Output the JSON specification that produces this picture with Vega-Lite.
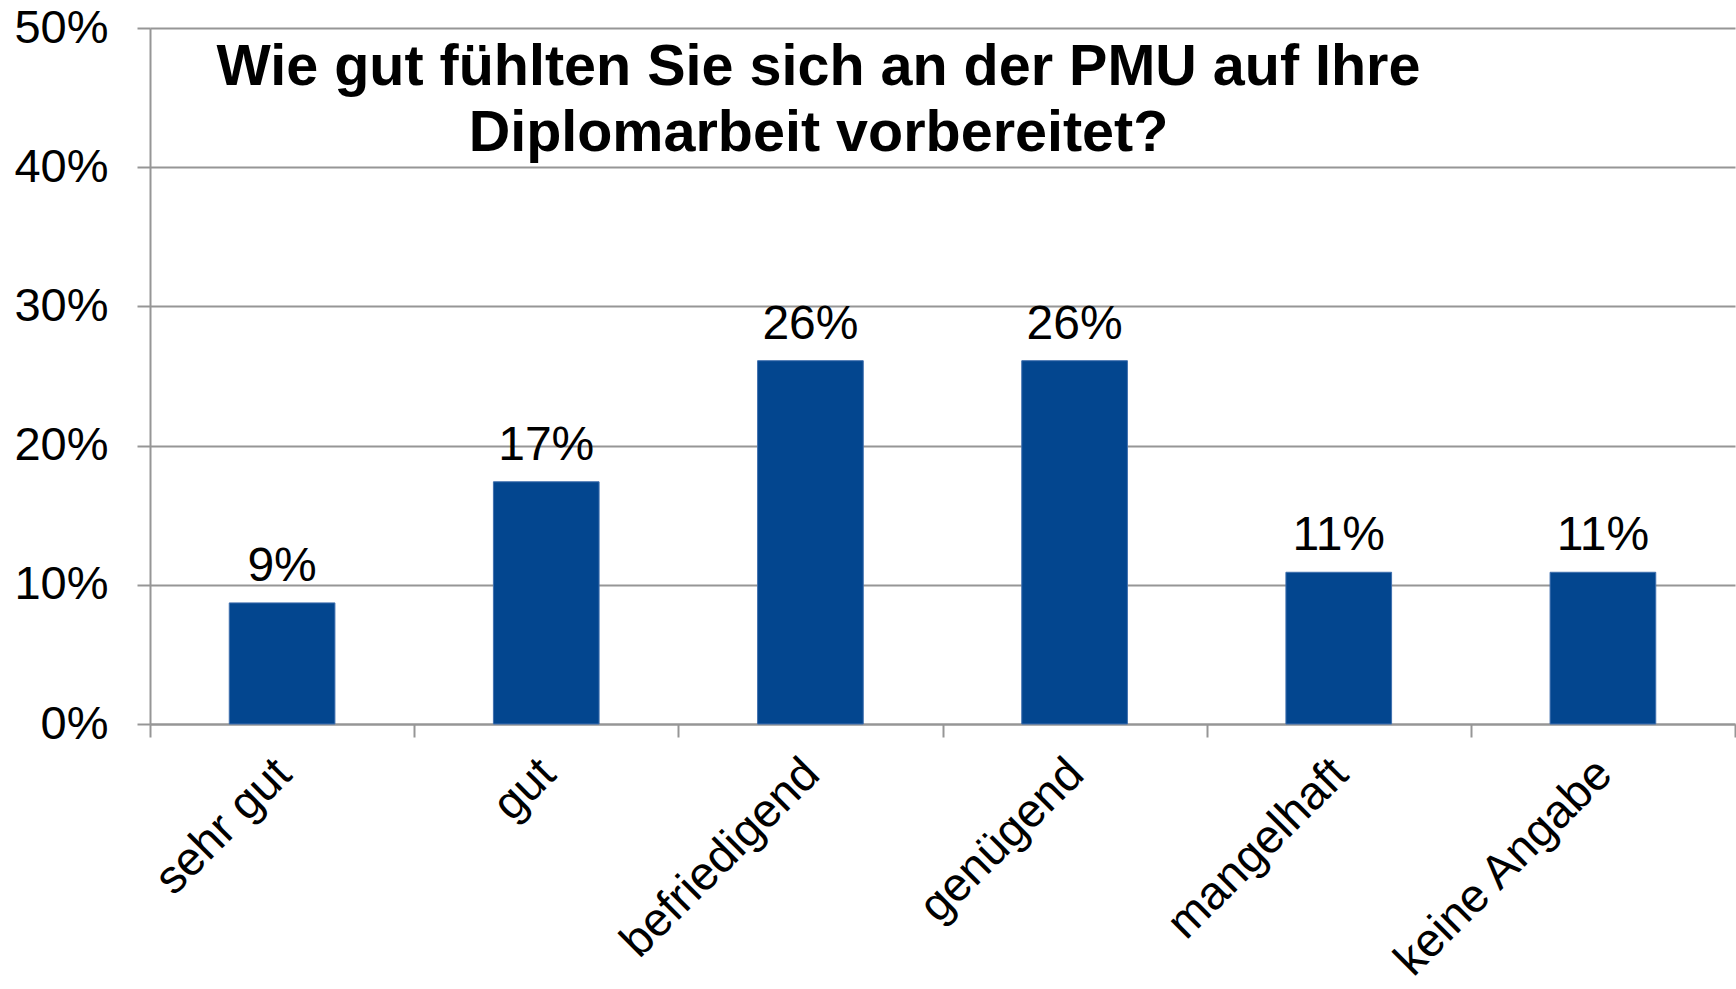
{
  "$schema": "https://vega.github.io/schema/vega-lite/v6.json",
  "autosize": {"type": "none"},
  "padding": {"left": 150, "top": 28, "right": 1, "bottom": 265},
  "width": 1585,
  "height": 696,
  "background": "white",
  "title": {
    "text": ["Wie gut fühlten Sie sich an der PMU auf Ihre", "Diplomarbeit vorbereitet?"],
    "frame": "group",
    "anchor": "middle",
    "orient": "top",
    "font": "Liberation Sans",
    "fontWeight": "bold",
    "fontSize": 57.5,
    "lineHeight": 66,
    "color": "black",
    "baseline": "top",
    "offset": 0,
    "dx": -124,
    "dy": 159
  },
  "data": {
    "values": [
      {"kategorie": "sehr gut", "anteil": 0.087},
      {"kategorie": "gut", "anteil": 0.174},
      {"kategorie": "befriedigend", "anteil": 0.261},
      {"kategorie": "genügend", "anteil": 0.261},
      {"kategorie": "mangelhaft", "anteil": 0.109},
      {"kategorie": "keine Angabe", "anteil": 0.109}
    ]
  },
  "encoding": {
    "x": {
      "field": "kategorie",
      "type": "nominal",
      "sort": null,
      "scale": {"paddingInner": 0, "paddingOuter": 0},
      "axis": {
        "title": null,
        "labelAngle": -45,
        "labelFont": "Liberation Sans",
        "labelFontSize": 47,
        "labelColor": "black",
        "labelPadding": 13,
        "labelOffset": -15,
        "labelAlign": "right",
        "labelBaseline": "top",
        "labelLimit": 0,
        "tickBand": "extent",
        "tickSize": 13,
        "tickColor": "#969696",
        "tickWidth": 2,
        "domainColor": "#969696",
        "domainWidth": 2,
        "grid": false,
        "labelOverlap": false
      }
    },
    "y": {
      "field": "anteil",
      "type": "quantitative",
      "scale": {"domain": [0, 0.5], "nice": false},
      "axis": {
        "title": null,
        "values": [0, 0.1, 0.2, 0.3, 0.4, 0.5],
        "format": ".0%",
        "labelFont": "Liberation Sans",
        "labelFontSize": 47,
        "labelColor": "black",
        "labelPadding": 29,
        "tickSize": 13,
        "tickColor": "#969696",
        "tickWidth": 2,
        "domainColor": "#969696",
        "domainWidth": 2,
        "grid": true,
        "gridColor": "#969696",
        "gridWidth": 2,
        "gridOpacity": 1
      }
    }
  },
  "layer": [
    {
      "mark": {"type": "bar", "color": "#03468F", "stroke": "#3f6fae", "strokeWidth": 1, "width": {"band": 0.4}}
    },
    {
      "mark": {
        "type": "text",
        "font": "Liberation Sans",
        "fontSize": 48,
        "color": "black",
        "baseline": "alphabetic",
        "dy": -22
      },
      "encoding": {
        "text": {"field": "anteil", "type": "quantitative", "format": ".0%"}
      }
    }
  ],
  "config": {
    "view": {"stroke": null}
  }
}
